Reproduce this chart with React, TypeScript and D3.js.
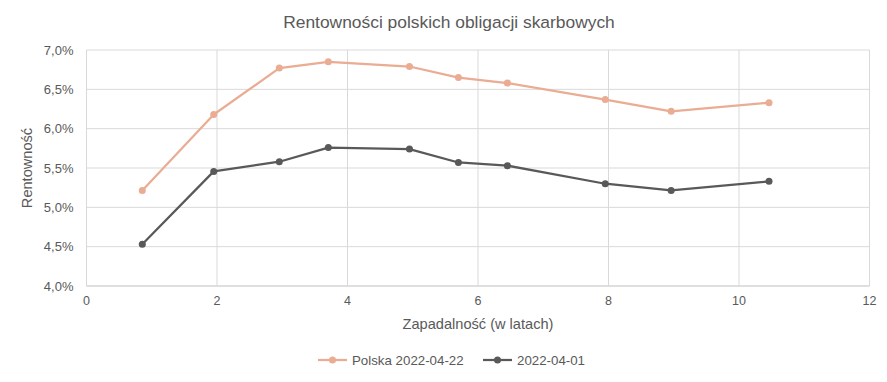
import React from "react";
import * as d3 from "d3";

const maturities = [0.855, 1.95, 2.955, 3.706, 4.95, 5.70, 6.45, 7.95, 8.96, 10.46];
const polska20220422 = [5.215, 6.18, 6.77, 6.85, 6.79, 6.65, 6.58, 6.37, 6.22, 6.33];
const s20220401 = [4.53, 5.457, 5.58, 5.76, 5.74, 5.57, 5.53, 5.30, 5.215, 5.33];
const seriesNames = ["Polska 2022-04-22", "2022-04-01"];
const seriesColors = ["#EAAC93", "#595959"];
const xTicks = [0, 2, 4, 6, 8, 10, 12];
const yTicks = [4.0, 4.5, 5.0, 5.5, 6.0, 6.5, 7.0];
const title = "Rentowności polskich obligacji skarbowych";
const xTitle = "Zapadalność (w latach)";
const yTitle = "Rentowność";

export default function App() {
  const W = 887, H = 382;
  const left = 86.5, right = 869.5, top = 50, bottom = 286;
  const x = d3.scaleLinear().domain([0, 12]).range([left, right]);
  const y = d3.scaleLinear().domain([4, 7]).range([bottom, top]);
  const font = "'Liberation Sans', Arial, sans-serif";
  const txt = "#595959";
  const series = [polska20220422, s20220401];
  const line = d3.line<number>().x((_, i) => x(maturities[i])).y((d) => y(d));
  const fmt = (v: number) => v.toFixed(1).replace(".", ",") + "%";
  const legendX = [318, 483];
  return (
    <svg width={W} height={H} style={{ position: "absolute", left: 0, top: 0, background: "#fff" }} fontFamily={font}>
      <rect width={W} height={H} fill="#fff" />
      <text x={449} y={28} textAnchor="middle" fontSize={17.4} fill={txt}>{title}</text>
      {yTicks.map((t) => (
        <g key={"y" + t}>
          <line x1={left} x2={right} y1={y(t)} y2={y(t)} stroke={t === 4 ? "#bfbfbf" : "#d9d9d9"} strokeWidth={1} />
          <text x={left - 13} y={y(t) + 4.5} textAnchor="end" fontSize={13} fill={txt}>{fmt(t)}</text>
        </g>
      ))}
      {xTicks.map((t) => (
        <g key={"x" + t}>
          <line x1={x(t)} x2={x(t)} y1={top} y2={bottom} stroke="#d9d9d9" strokeWidth={1} />
          <text x={x(t)} y={bottom + 19} textAnchor="middle" fontSize={12.5} fill={txt}>{t}</text>
        </g>
      ))}
      <text x={(left + right) / 2} y={329} textAnchor="middle" fontSize={14.6} fill={txt}>{xTitle}</text>
      <text transform={`translate(32,${(top + bottom) / 2}) rotate(-90)`} textAnchor="middle" fontSize={14.6} fill={txt}>{yTitle}</text>
      {series.map((s, si) => (
        <g key={"s" + si}>
          <path d={line(s) || ""} fill="none" stroke={seriesColors[si]} strokeWidth={2.25} strokeLinejoin="round" />
          {s.map((v, i) => (
            <circle key={i} cx={x(maturities[i])} cy={y(v)} r={3.5} fill={seriesColors[si]} />
          ))}
        </g>
      ))}
      {seriesNames.map((n, i) => {
        const lx = legendX[i];
        return (
          <g key={"l" + i}>
            <line x1={lx} x2={lx + 29} y1={360} y2={360} stroke={seriesColors[i]} strokeWidth={2.25} />
            <circle cx={lx + 14.5} cy={360} r={3.5} fill={seriesColors[i]} />
            <text x={lx + 34} y={364.8} fontSize={13.3} fill={txt}>{n}</text>
          </g>
        );
      })}
    </svg>
  );
}
